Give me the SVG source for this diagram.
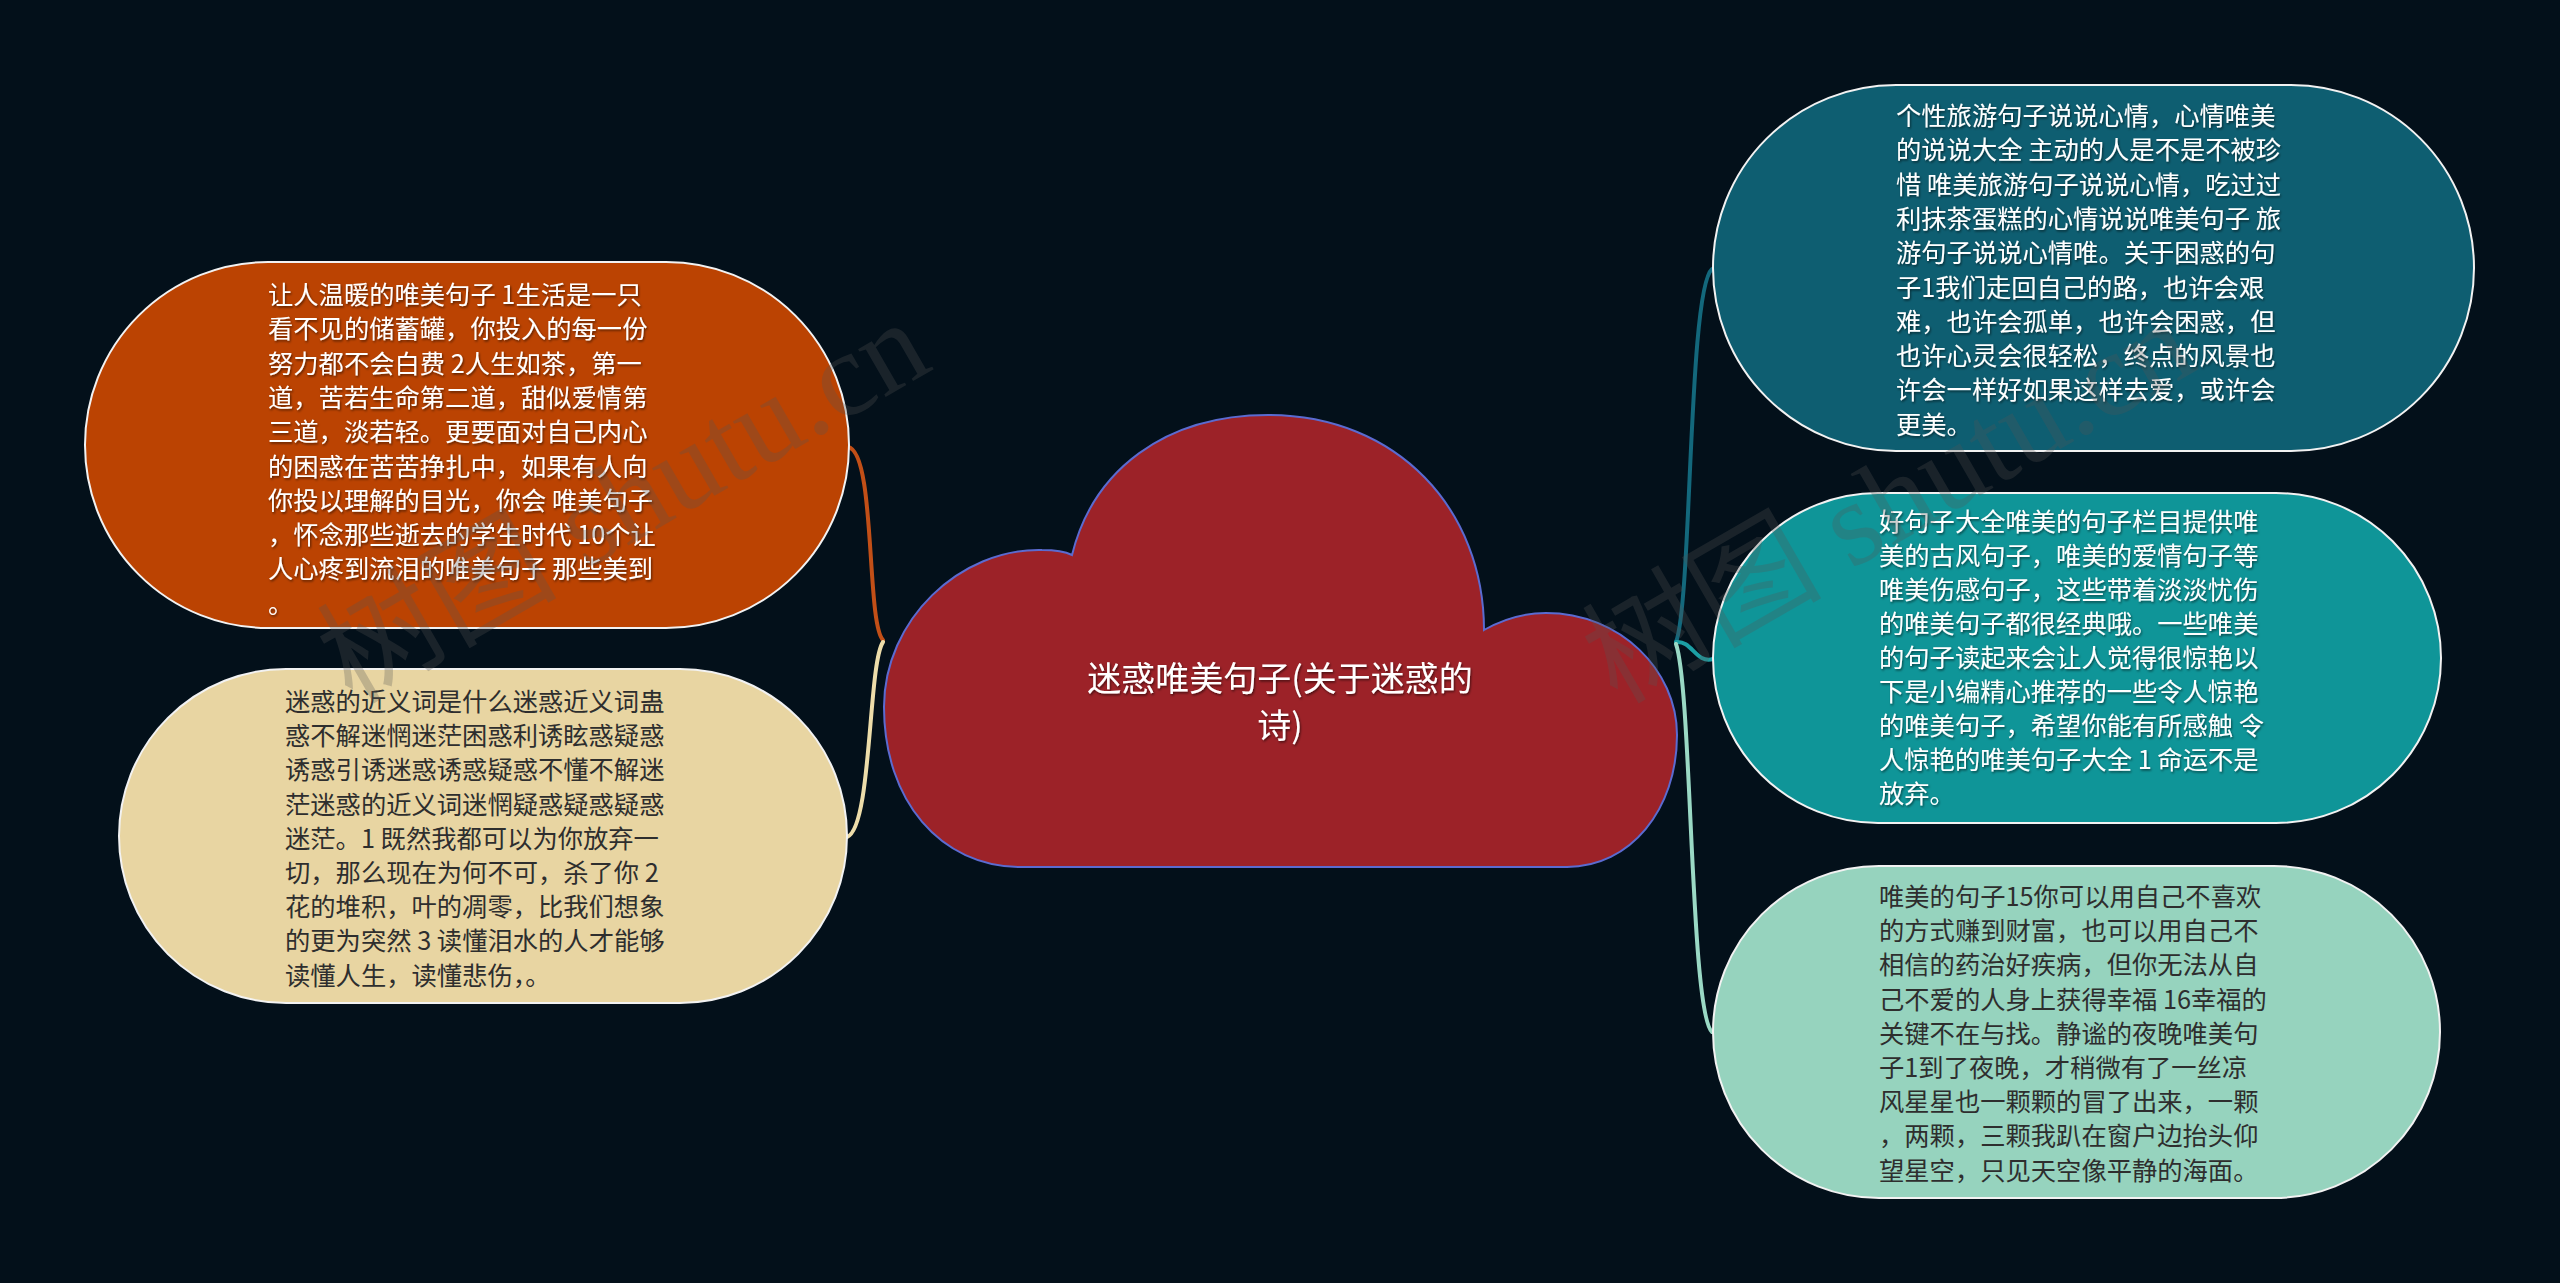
<svg xmlns="http://www.w3.org/2000/svg" width="2560" height="1283" viewBox="0 0 2560 1283">
<defs>
<filter id="sh" x="-5%" y="-5%" width="110%" height="110%">
<feDropShadow dx="1" dy="1.5" stdDeviation="1" flood-color="#000" flood-opacity="0.55"/>
</filter>
<style>
.node{stroke:#f2f2f2;stroke-width:2}
.t{font-family:"Noto Sans CJK SC","Noto Sans",sans-serif;font-size:25.3px}
.w{fill:#ffffff;filter:url(#sh)}
.d{fill:#2e2e2e}
.c{fill:none;stroke-width:4;stroke-linecap:round}
.wm{font-family:"Liberation Serif","Noto Sans CJK SC",serif;font-size:120px;fill:#555;opacity:0.28}
</style>
</defs>
<rect width="2560" height="1283" fill="#03101a"/>

<g id="connectors">
<path class="c" stroke="#C24F17" d="M848 447 C876 452 866 622 883 640"/>
<path class="c" stroke="#EDDDAA" d="M883 642 C868 664 872 828 847 837"/>
<path class="c" stroke="#13687C" d="M1676 642 C1692 600 1688 290 1712 269"/>
<path class="c" stroke="#1C9FA4" d="M1676 642 C1692 640 1696 664 1713 659"/>
<path class="c" stroke="#9AD9C5" d="M1676 644 C1692 690 1690 1012 1712 1032"/>
</g>

<g id="center">
<path d="M1021 867 C940 867 884 800 884 707 C884 620 960 548 1042 550 C1055 550 1066 552 1072 555 C1093 470 1165 415 1268 415 C1398 415 1484 510 1484 630 C1505 618 1525 613 1546 613 C1620 613 1677 670 1677 735 C1677 810 1630 867 1567 867 Z" fill="#9C2228" stroke="#5B6BD0" stroke-width="2"/>
<text class="w" font-family="Noto Sans CJK SC, sans-serif" font-size="34" text-anchor="middle"><tspan x="1280" y="691">迷惑唯美句子(关于迷惑的</tspan><tspan x="1280" y="738">诗)</tspan></text>
</g>

<g id="node1">
<rect class="node" x="85" y="262" width="764" height="366" rx="183" fill="#BB4302"/>
<text class="t w"><tspan x="268" y="304">让人温暖的唯美句子 1生活是一只</tspan><tspan x="268" y="338.3">看不见的储蓄罐，你投入的每一份</tspan><tspan x="268" y="372.6">努力都不会白费 2人生如茶，第一</tspan><tspan x="268" y="406.9">道，苦若生命第二道，甜似爱情第</tspan><tspan x="268" y="441.2">三道，淡若轻。更要面对自己内心</tspan><tspan x="268" y="475.5">的困惑在苦苦挣扎中，如果有人向</tspan><tspan x="268" y="509.8">你投以理解的目光，你会 唯美句子</tspan><tspan x="268" y="544.1">，怀念那些逝去的学生时代 10个让</tspan><tspan x="268" y="578.4">人心疼到流泪的唯美句子 那些美到</tspan><tspan x="268" y="612.7">。</tspan></text>
</g>

<g id="node2">
<rect class="node" x="119" y="669" width="728" height="334" rx="167" fill="#E8D5A2"/>
<text class="t d"><tspan x="285" y="711">迷惑的近义词是什么迷惑近义词蛊</tspan><tspan x="285" y="745.2">惑不解迷惘迷茫困惑利诱眩惑疑惑</tspan><tspan x="285" y="779.4">诱惑引诱迷惑诱惑疑惑不懂不解迷</tspan><tspan x="285" y="813.6">茫迷惑的近义词迷惘疑惑疑惑疑惑</tspan><tspan x="285" y="847.8">迷茫。1 既然我都可以为你放弃一</tspan><tspan x="285" y="882">切，那么现在为何不可，杀了你 2</tspan><tspan x="285" y="916.2">花的堆积，叶的凋零，比我们想象</tspan><tspan x="285" y="950.4">的更为突然 3 读懂泪水的人才能够</tspan><tspan x="285" y="984.6">读懂人生，读懂悲伤，。</tspan></text>
</g>

<g id="node3">
<rect class="node" x="1713" y="85" width="761" height="366" rx="183" fill="#0E5E71"/>
<text class="t w"><tspan x="1896" y="125">个性旅游句子说说心情，心情唯美</tspan><tspan x="1896" y="159.3">的说说大全 主动的人是不是不被珍</tspan><tspan x="1896" y="193.6">惜 唯美旅游句子说说心情，吃过过</tspan><tspan x="1896" y="227.9">利抹茶蛋糕的心情说说唯美句子 旅</tspan><tspan x="1896" y="262.2">游句子说说心情唯。关于困惑的句</tspan><tspan x="1896" y="296.5">子1我们走回自己的路，也许会艰</tspan><tspan x="1896" y="330.8">难，也许会孤单，也许会困惑，但</tspan><tspan x="1896" y="365.1">也许心灵会很轻松，终点的风景也</tspan><tspan x="1896" y="399.4">许会一样好如果这样去爱，或许会</tspan><tspan x="1896" y="433.7">更美。</tspan></text>
</g>

<g id="node4">
<rect class="node" x="1713" y="493" width="728" height="330" rx="165" fill="#0F9598"/>
<text class="t w"><tspan x="1879" y="531">好句子大全唯美的句子栏目提供唯</tspan><tspan x="1879" y="565">美的古风句子，唯美的爱情句子等</tspan><tspan x="1879" y="599">唯美伤感句子，这些带着淡淡忧伤</tspan><tspan x="1879" y="633">的唯美句子都很经典哦。一些唯美</tspan><tspan x="1879" y="667">的句子读起来会让人觉得很惊艳以</tspan><tspan x="1879" y="701">下是小编精心推荐的一些令人惊艳</tspan><tspan x="1879" y="735">的唯美句子，希望你能有所感触 令</tspan><tspan x="1879" y="769">人惊艳的唯美句子大全 1 命运不是</tspan><tspan x="1879" y="803">放弃。</tspan></text>
</g>

<g id="node5">
<rect class="node" x="1713" y="866" width="727" height="332" rx="166" fill="#96D3BE"/>
<text class="t d"><tspan x="1879" y="906">唯美的句子15你可以用自己不喜欢</tspan><tspan x="1879" y="940.2">的方式赚到财富，也可以用自己不</tspan><tspan x="1879" y="974.4">相信的药治好疾病，但你无法从自</tspan><tspan x="1879" y="1008.6">己不爱的人身上获得幸福 16幸福的</tspan><tspan x="1879" y="1042.8">关键不在与找。静谧的夜晚唯美句</tspan><tspan x="1879" y="1077">子1到了夜晚，才稍微有了一丝凉</tspan><tspan x="1879" y="1111.2">风星星也一颗颗的冒了出来，一颗</tspan><tspan x="1879" y="1145.4">，两颗，三颗我趴在窗户边抬头仰</tspan><tspan x="1879" y="1179.6">望星空，只见天空像平静的海面。</tspan></text>
</g>

<g id="watermark">
<text class="wm" transform="translate(352 705) rotate(-30)">树图 shutu.cn</text>
<text class="wm" transform="translate(1617 705) rotate(-30)">树图 shutu.cn</text>
</g>
</svg>
